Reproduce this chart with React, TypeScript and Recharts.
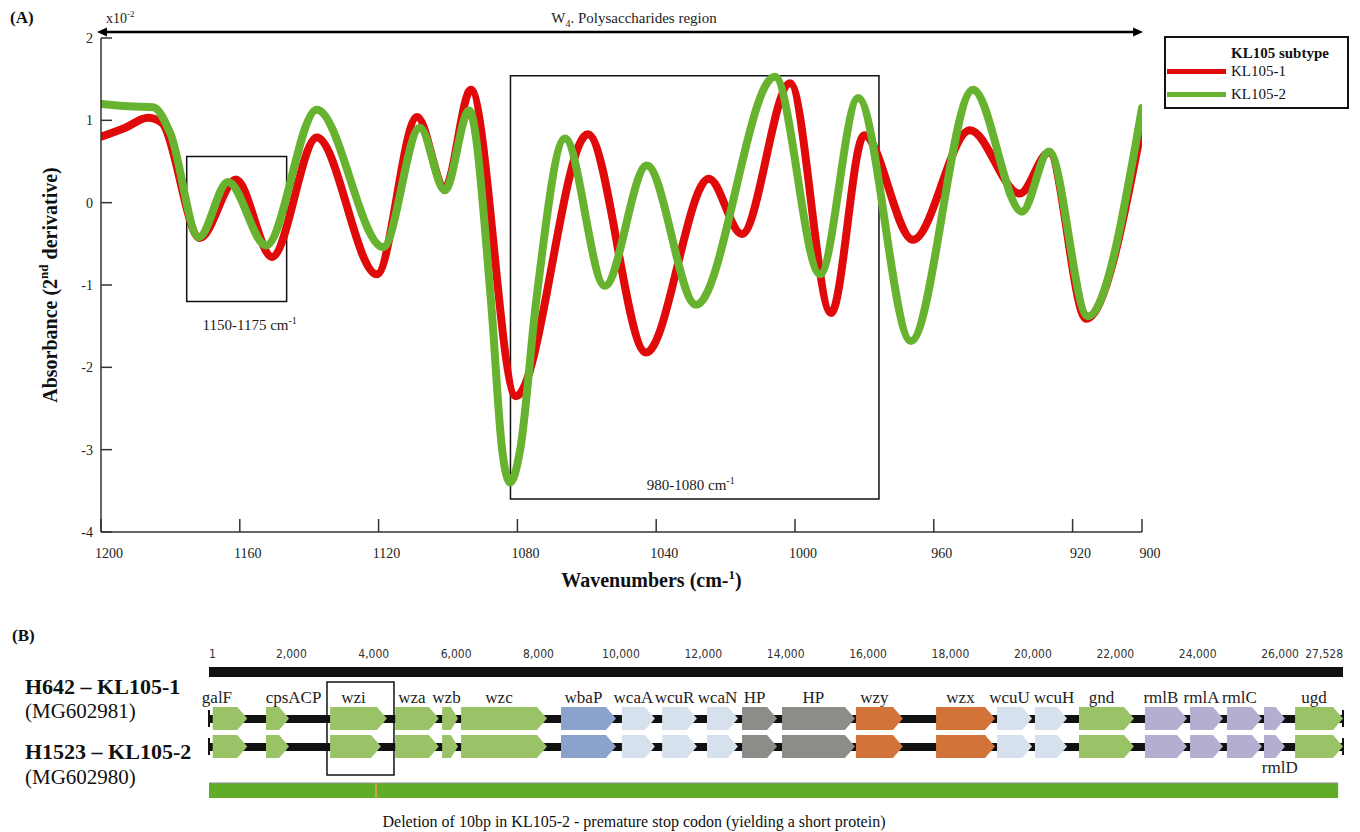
import React from 'react';
import { ComposedChart, Line, XAxis, YAxis, ReferenceArea, ReferenceLine, Legend } from 'recharts';

const SERIF = '"Liberation Serif", "Times New Roman", serif';
const NARROW = '"Liberation Sans Narrow", "DejaVu Sans Condensed", sans-serif';

// (A) second derivative spectra (x10^-2)
const kl1Wavenumbers = [1200, 1193, 1186.5, 1182.5, 1171.5, 1161.1, 1150.7, 1137.8, 1120.5, 1108.9, 1100.9, 1093.4, 1080.4, 1059.7, 1042.9, 1024.8, 1015.3, 1001.4, 989.6, 980.1, 966.0, 949.6, 935.2, 926.8, 916.1, 900];
const kl1Absorbance = [0.8, 0.91, 1.03, 0.97, -0.43, 0.28, -0.66, 0.79, -0.87, 1.04, 0.18, 1.37, -2.35, 0.83, -1.82, 0.29, -0.38, 1.45, -1.34, 0.82, -0.45, 0.88, 0.11, 0.61, -1.41, 0.94];

const kl2Wavenumbers = [1200, 1192, 1185, 1180, 1171.8, 1163.4, 1152.4, 1137.8, 1118.7, 1108.1, 1100.9, 1093.9, 1087.6, 1084.4, 1082.1, 1079.2, 1074.6, 1066.3, 1054.8, 1042.7, 1028.5, 1005.8, 992.8, 981.8, 966.6, 948.7, 934.6, 926.8, 915.6, 900];
const kl2Absorbance = [1.2, 1.17, 1.16, 0.84, -0.42, 0.25, -0.52, 1.13, -0.54, 0.91, 0.15, 1.12, -1.2, -3.0, -3.4, -3.0, -1.2, 0.78, -1.01, 0.45, -1.24, 1.53, -0.87, 1.27, -1.68, 1.37, -0.11, 0.62, -1.38, 1.15];

const wavenumberTicks = [1200, 1160, 1120, 1080, 1040, 1000, 960, 920, 900];
const innerWavenumberTicks = [1160, 1120, 1080, 1040, 1000, 960, 920];
const absorbanceTicks = [-4, -3, -2, -1, 0, 1, 2];

// highlighted windows: [from, to, top, bottom]
const windowSmall = [1175.3, 1146.5, 0.56, -1.2];
const windowLarge = [1082, 975.8, 1.54, -3.6];

// (B) KL105 capsule loci (bp)
const geneNames = ['galF', 'cpsACP', 'wzi', 'wza', 'wzb', 'wzc', 'wbaP', 'wcaA', 'wcuR', 'wcaN', 'HP', 'HP', 'wzy', 'wzx', 'wcuU', 'wcuH', 'gnd', 'rmlB', 'rmlA', 'rmlC', 'rmlD', 'ugd'];
const geneStart = [90, 1385, 2940, 4520, 5660, 6120, 8545, 10025, 11000, 12090, 12940, 13910, 15705, 17650, 19130, 20050, 21120, 22720, 23815, 24710, 25610, 26365];
const geneEndKL1 = [930, 1945, 4320, 5580, 6045, 8205, 9880, 10825, 11845, 12840, 13790, 15680, 16845, 19080, 19980, 20830, 22455, 23740, 24615, 25560, 26120, 27528];
const geneEndKL2 = [930, 1945, 4175, 5580, 6045, 8205, 9880, 10825, 11845, 12840, 13790, 15680, 16845, 19080, 19980, 20830, 22455, 23740, 24615, 25560, 26120, 27528];
const geneClass = ['cps', 'cps', 'cps', 'cps', 'cps', 'cps', 'gt', 'wc', 'wc', 'wc', 'hp', 'hp', 'wzxy', 'wzxy', 'wc', 'wc', 'cps', 'rml', 'rml', 'rml', 'rml', 'cps'];
const locusTicks = [1, 2000, 4000, 6000, 8000, 10000, 12000, 14000, 16000, 18000, 20000, 22000, 24000, 26000, 27528];
const locusLength = 27528;
const identityEnd = 27410;
const deletionAt = 4054;
const wziBox = [2865, 4491];

const classColor: Record<string, string> = {
  cps: '#9ac266',
  gt: '#8ba3cc',
  wc: '#d7e1ed',
  hp: '#8c8c89',
  wzxy: '#d2743a',
  rml: '#b3afd1',
};

// small pixel nudges so crowded gene names sit as in the figure
const labelNudge: Record<string, number> = { galF: -8, cpsACP: 21, wcuH: 8, rmlD: 10 };

const kl1Points = kl1Wavenumbers.map((w, i) => ({ w, a: kl1Absorbance[i] }));
const kl2Points = kl2Wavenumbers.map((w, i) => ({ w, a: kl2Absorbance[i] }));

// vertical layout of panel B tracks (hidden axis units)
const RULER = 10;
const ROW1 = [45, 68];
const ROW2 = [73, 96];
const BACK1 = 57;
const BACK2 = 85;
const IDENT = [121, 136];
const BOX = [20, 113];

const track = (from: number, to: number, level: number) => [
  { bp: from, level },
  { bp: to, level },
];

const axisStroke = { stroke: '#333', strokeWidth: 1.5 };

const RegionArrow = (p: any) => {
  const { x1, y1, x2, y2 } = p;
  const head = 10;
  return (
    <g>
      <line x1={x1 + head} y1={y1} x2={x2 - head} y2={y2} stroke="#000" strokeWidth={2.5} />
      <polygon points={`${x1},${y1} ${x1 + head},${y1 - 4.5} ${x1 + head},${y1 + 4.5}`} fill="#000" />
      <polygon points={`${x2},${y2} ${x2 - head},${y2 - 4.5} ${x2 - head},${y2 + 4.5}`} fill="#000" />
      <text x={(x1 + x2) / 2 + 14} y={y1 - 9} textAnchor="middle" fontSize={15} fill="#222">
        W<tspan dy={4} fontSize={10}>4</tspan>
        <tspan dy={-4}>. Polysaccharides region</tspan>
      </text>
      <text x={x1 + 9} y={y1 - 9} fontSize={14} fill="#222">
        x10<tspan dy={-6} fontSize={9}>-2</tspan>
      </text>
    </g>
  );
};

const windowLabel = (text: string, inside: boolean) => (p: any) => {
  const { x, y, width, height } = p.viewBox;
  const cx = x + width / 2 + (inside ? -4 : 13);
  const ty = inside ? y + height - 9 : y + height + 29;
  return (
    <text x={cx} y={ty} textAnchor="middle" fontSize={15} fill="#222">
      {text} cm<tspan dy={-6} fontSize={10}>-1</tspan>
    </text>
  );
};

const yTitle = (p: any) => {
  const vb = p.viewBox;
  const cx = vb.x + 9;
  const cy = vb.y + vb.height / 2;
  return (
    <text x={cx} y={cy} transform={`rotate(-90 ${cx} ${cy})`} textAnchor="middle" dominantBaseline="central" fontSize={20} fontWeight="bold" fill="#111">
      Absorbance (2<tspan dy={-7} fontSize={13}>nd</tspan>
      <tspan dy={7}> derivative)</tspan>
    </text>
  );
};

const xTitle = (p: any) => {
  const vb = p.viewBox;
  const cx = vb.x + vb.width / 2 + 30;
  return (
    <text x={cx} y={vb.y + 55} textAnchor="middle" fontSize={20} fontWeight="bold" fill="#111">
      Wavenumbers (cm-<tspan dy={-8} fontSize={13}>1</tspan>
      <tspan dy={8}>)</tspan>
    </text>
  );
};

const renderLegend = (props: any) => (
  <div style={{ width: 185, height: 73, boxSizing: 'border-box', border: '2px solid #111', position: 'relative', background: '#fff', fontFamily: SERIF, color: '#111' }}>
    <div style={{ position: 'absolute', left: 65, top: 6, fontSize: 15, fontWeight: 'bold', lineHeight: '18px', whiteSpace: 'nowrap' }}>KL105 subtype</div>
    {(props.payload || []).map((e: any, i: number) => (
      <div key={e.value} style={{ position: 'absolute', left: 1, top: 24 + i * 23, height: 18, display: 'flex', alignItems: 'center' }}>
        <span style={{ display: 'inline-block', width: 59, height: 5, background: e.color, marginRight: 5 }} />
        <span style={{ fontSize: 15, lineHeight: '18px', whiteSpace: 'nowrap' }}>{e.value}</span>
      </div>
    ))}
  </div>
);

const geneArrow = (fill: string, label: string | null, below: boolean) => (p: any) => {
  const { x, y, width, height } = p;
  const head = Math.min(10, width * 0.45);
  const pts = `${x},${y} ${x + width - head},${y} ${x + width},${y + height / 2} ${x + width - head},${y + height} ${x},${y + height}`;
  const lx = x + (width - head) / 2 + (label ? labelNudge[label] || 0 : 0);
  return (
    <g>
      <polygon points={pts} fill={fill} />
      {label && (
        <text x={lx} y={below ? y + height + 15 : y - 4} textAnchor="middle" fontSize={17} fill="#222" fontFamily={SERIF}>
          {label}
        </text>
      )}
    </g>
  );
};

const LocusTick = (p: any) => {
  const { x, y, payload } = p;
  const v = payload.value;
  const anchor = v === 1 ? 'start' : v === locusLength ? 'end' : 'middle';
  return (
    <text x={x} y={y} textAnchor={anchor} fontSize={12} fill="#333" fontFamily={NARROW}>
      {v.toLocaleString('en-US')}
    </text>
  );
};

const Caption = ({ left, top, size, bold, children }: any) => (
  <div style={{ position: 'absolute', left, top, transform: 'translateY(-50%)', fontSize: size, fontWeight: bold ? 'bold' : 'normal', lineHeight: 1, whiteSpace: 'nowrap', fontFamily: SERIF }}>
    {children}
  </div>
);

export default function App() {
  return (
    <div style={{ position: 'absolute', left: 0, top: 0, width: 1360, height: 832, background: '#fff', fontFamily: SERIF, color: '#111', overflow: 'hidden' }}>
      <Caption left={10} top={17} size={17} bold>(A)</Caption>
      <div style={{ position: 'absolute', left: 0, top: 0 }}>
        <ComposedChart width={1360} height={610} margin={{ top: 38, right: 218, bottom: 48, left: 41 }}>
          <XAxis
            xAxisId={0}
            type="number"
            dataKey="w"
            domain={[900, 1200]}
            reversed
            allowDataOverflow
            ticks={wavenumberTicks}
            interval={0}
            height={30}
            tickSize={-13}
            tickMargin={29}
            axisLine={axisStroke}
            tickLine={axisStroke}
            tick={{ fontSize: 14, fill: '#222', dx: 8 }}
            label={xTitle}
          />
          <XAxis xAxisId="top" orientation="top" type="number" domain={[900, 1200]} reversed allowDataOverflow ticks={innerWavenumberTicks} height={0} tickSize={-13} tick={false} axisLine={axisStroke} tickLine={axisStroke} />
          <YAxis
            yAxisId={0}
            type="number"
            domain={[-4, 2]}
            allowDataOverflow
            ticks={absorbanceTicks}
            interval={0}
            width={60}
            tickSize={-11}
            tickMargin={19}
            axisLine={axisStroke}
            tickLine={axisStroke}
            tick={{ fontSize: 14, fill: '#222' }}
            label={yTitle}
          />
          <YAxis yAxisId="right" orientation="right" type="number" domain={[-4, 2]} allowDataOverflow ticks={[-3, -2, -1, 0, 1]} width={0} tickSize={-11} tick={false} axisLine={axisStroke} tickLine={axisStroke} />

          <ReferenceArea x1={windowSmall[0]} x2={windowSmall[1]} y1={windowSmall[2]} y2={windowSmall[3]} fill="none" fillOpacity={0} stroke="#111" strokeWidth={1.5} label={windowLabel('1150-1175', false)} />
          <ReferenceArea x1={windowLarge[0]} x2={windowLarge[1]} y1={windowLarge[2]} y2={windowLarge[3]} fill="none" fillOpacity={0} stroke="#111" strokeWidth={1.5} label={windowLabel('980-1080', true)} />
          <ReferenceLine segment={[{ x: 1201.15, y: 2.073 }, { x: 899.7, y: 2.073 }]} ifOverflow="visible" shape={RegionArrow} />

          <Line data={kl1Points} dataKey="a" name="KL105-1" type="monotone" stroke="#e00a0a" strokeWidth={8} dot={false} activeDot={false} strokeLinejoin="round" strokeLinecap="round" isAnimationActive={false} />
          <Line data={kl2Points} dataKey="a" name="KL105-2" type="monotone" stroke="#67b32f" strokeWidth={8} dot={false} activeDot={false} strokeLinejoin="round" strokeLinecap="round" isAnimationActive={false} />

          <Legend layout="vertical" align="center" verticalAlign="middle" content={renderLegend} wrapperStyle={{ position: 'absolute', left: 1164, top: 36, width: 185, height: 73 }} />
        </ComposedChart>
      </div>

      <Caption left={12} top={635} size={17} bold>(B)</Caption>
      <Caption left={25} top={687} size={22} bold>H642 – KL105-1</Caption>
      <Caption left={25} top={711} size={21}>(MG602981)</Caption>
      <Caption left={25} top={752} size={22} bold>H1523 – KL105-2</Caption>
      <Caption left={25} top={777} size={21}>(MG602980)</Caption>

      <div style={{ position: 'absolute', left: 0, top: 640 }}>
        <ComposedChart width={1360} height={170} margin={{ top: 2, right: 17, bottom: 8, left: 209 }}>
          <XAxis type="number" dataKey="bp" orientation="top" domain={[1, locusLength]} allowDataOverflow ticks={locusTicks} interval={0} height={20} axisLine={false} tickLine={false} tickSize={0} tickMargin={4} tick={LocusTick} />
          <YAxis type="number" domain={[0, 140]} reversed hide allowDataOverflow />

          {/* ruler, sequence backbones and identity bar */}
          <Line data={track(1, locusLength, RULER)} dataKey="level" stroke="#111" strokeWidth={10} dot={false} activeDot={false} isAnimationActive={false} />
          <Line data={track(1, locusLength, BACK1)} dataKey="level" stroke="#111" strokeWidth={8} dot={false} activeDot={false} isAnimationActive={false} />
          <Line data={track(1, locusLength, BACK2)} dataKey="level" stroke="#111" strokeWidth={8} dot={false} activeDot={false} isAnimationActive={false} />
          <Line data={track(1, identityEnd, (IDENT[0] + IDENT[1]) / 2)} dataKey="level" stroke="#62ad28" strokeWidth={IDENT[1] - IDENT[0]} dot={false} activeDot={false} isAnimationActive={false} />
          <Line data={track(1, identityEnd, IDENT[0])} dataKey="level" stroke="#8a8a8a" strokeWidth={1.2} dot={false} activeDot={false} isAnimationActive={false} />

          <ReferenceLine segment={[{ x: 1, y: ROW1[0] + 3 }, { x: 1, y: ROW1[1] - 3 }]} stroke="#111" strokeWidth={2} zIndex={600} />
          <ReferenceLine segment={[{ x: 1, y: ROW2[0] + 3 }, { x: 1, y: ROW2[1] - 3 }]} stroke="#111" strokeWidth={2} zIndex={600} />
          <ReferenceLine segment={[{ x: locusLength, y: ROW1[0] + 3 }, { x: locusLength, y: ROW1[1] - 3 }]} stroke="#111" strokeWidth={2} zIndex={600} />
          <ReferenceLine segment={[{ x: locusLength, y: ROW2[0] + 3 }, { x: locusLength, y: ROW2[1] - 3 }]} stroke="#111" strokeWidth={2} zIndex={600} />

          {geneNames.map((name, i) => (
            <ReferenceArea
              key={`r1-${i}`}
              x1={geneStart[i]}
              x2={geneEndKL1[i]}
              y1={ROW1[0]}
              y2={ROW1[1]}
              zIndex={600}
              shape={geneArrow(classColor[geneClass[i]], name === 'rmlD' ? null : name, false)}
            />
          ))}
          {geneNames.map((name, i) => (
            <ReferenceArea
              key={`r2-${i}`}
              x1={geneStart[i]}
              x2={geneEndKL2[i]}
              y1={ROW2[0]}
              y2={ROW2[1]}
              zIndex={600}
              shape={geneArrow(classColor[geneClass[i]], name === 'rmlD' ? name : null, true)}
            />
          ))}

          <ReferenceArea x1={wziBox[0]} x2={wziBox[1]} y1={BOX[0]} y2={BOX[1]} fill="none" fillOpacity={0} stroke="#111" strokeWidth={1.5} zIndex={650} />
          <ReferenceLine segment={[{ x: deletionAt, y: IDENT[0] }, { x: deletionAt, y: IDENT[1] }]} stroke="#c9a53c" strokeWidth={2} zIndex={650} />
        </ComposedChart>
      </div>

      <div style={{ position: 'absolute', left: 634, top: 822, transform: 'translate(-50%, -50%)', fontSize: 16, lineHeight: 1, whiteSpace: 'nowrap' }}>
        Deletion of 10bp in KL105-2 - premature stop codon (yielding a short protein)
      </div>
    </div>
  );
}
